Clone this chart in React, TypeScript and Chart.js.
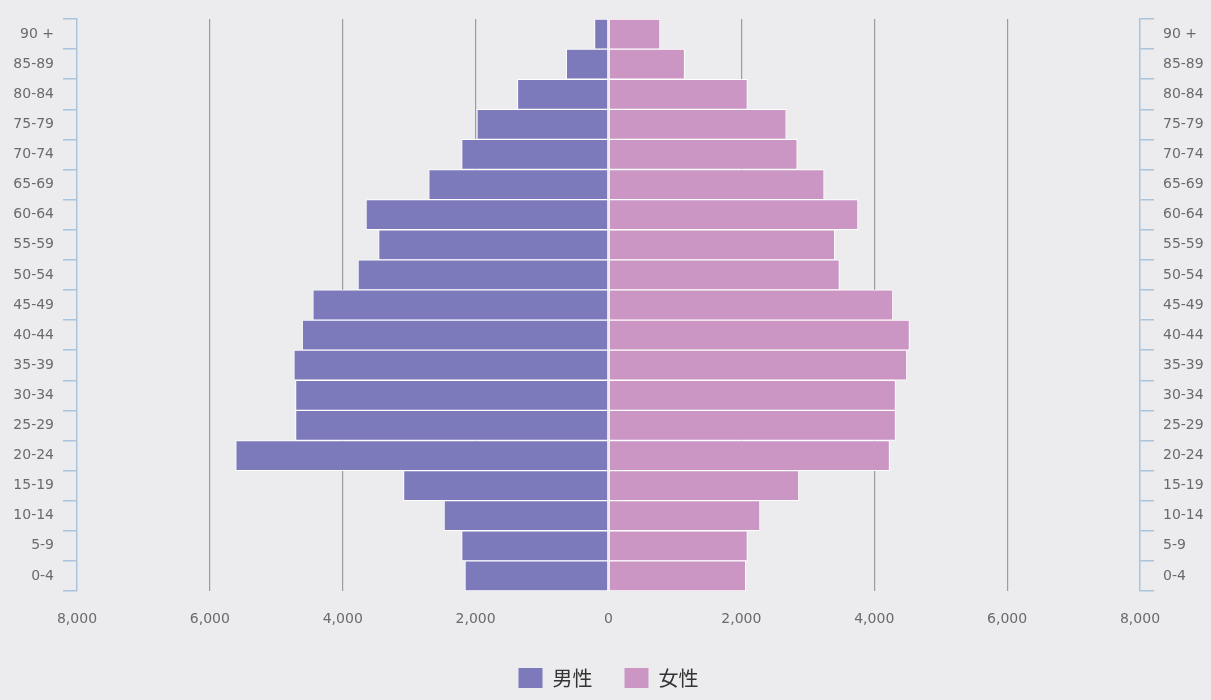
import React, { useEffect, useRef } from "react";
import { Chart, registerables } from "chart.js";

Chart.register(...registerables);

// Age groups, listed top row first
const ageGroups = [
  "90 +", "85-89", "80-84", "75-79", "70-74", "65-69", "60-64", "55-59", "50-54",
  "45-49", "40-44", "35-39", "30-34", "25-29", "20-24", "15-19", "10-14", "5-9", "0-4",
];

// Population by age group
const maleValues = [
  210, 635, 1370, 1980, 2210, 2705, 3650, 3460, 3770,
  4450, 4610, 4735, 4710, 4710, 5610, 3085, 2475, 2210, 2160,
];
const femaleValues = [
  775, 1145, 2090, 2675, 2840, 3245, 3755, 3405, 3475,
  4280, 4530, 4490, 4320, 4320, 4230, 2865, 2280, 2090, 2065,
];

const seriesNames = ["男性", "女性"];

const xMin = -8000;
const xMax = 8000;
const xStep = 2000;

const BG = "#ececee";
const AXIS_BLUE = "#a9c4dc";
const GRID_GRAY = "#9c9ca0";
const TICK_TEXT = "#6a6a6c";
const MALE_COLOR = "#7c7abb";
const FEMALE_COLOR = "#cb96c4";

export default function App() {
  const canvasRef = useRef<HTMLCanvasElement | null>(null);

  useEffect(() => {
    document.body.style.margin = "0";
    document.body.style.background = BG;
    const canvas = canvasRef.current;
    if (!canvas) return;

    const tickFont = { family: "'DejaVu Sans', sans-serif", size: 14 };

    const chart = new Chart(canvas, {
      type: "bar",
      data: {
        labels: ageGroups,
        datasets: [
          {
            label: seriesNames[0],
            data: maleValues.map((v) => -v),
            backgroundColor: MALE_COLOR,
            borderColor: "#ffffff",
            borderWidth: 1,
            borderSkipped: false,
            barPercentage: 1,
            categoryPercentage: 1,
          },
          {
            label: seriesNames[1],
            data: femaleValues,
            backgroundColor: FEMALE_COLOR,
            borderColor: "#ffffff",
            borderWidth: 1,
            borderSkipped: false,
            barPercentage: 1,
            categoryPercentage: 1,
          },
        ],
      },
      options: {
        indexAxis: "y",
        responsive: false,
        animation: false,
        layout: { padding: { top: 19, bottom: 2, left: 0, right: 0 } },
        scales: {
          x: {
            type: "linear",
            stacked: true,
            min: xMin,
            max: xMax,
            ticks: {
              stepSize: xStep,
              padding: 20,
              color: TICK_TEXT,
              font: tickFont,
              callback: (v: any) => Math.abs(Number(v)).toLocaleString("en-US"),
            },
            grid: {
              drawTicks: false,
              lineWidth: 1.2,
              color: (ctx: any) => {
                const v = ctx.tick ? ctx.tick.value : 0;
                return v === 0 || Math.abs(v) === xMax ? "rgba(0,0,0,0)" : GRID_GRAY;
              },
            },
            border: { display: false },
            afterFit: (s: any) => {
              s.height = 45;
            },
          },
          y: {
            type: "category",
            position: "left",
            stacked: true,
            offset: true,
            ticks: { padding: 9, color: TICK_TEXT, font: tickFont },
            grid: {
              offset: true,
              drawOnChartArea: false,
              drawTicks: true,
              tickLength: 14,
              color: AXIS_BLUE,
              lineWidth: 1.5,
            },
            border: { display: true, color: AXIS_BLUE, width: 1.5 },
            afterFit: (s: any) => {
              s.width = 77;
            },
          },
          y2: {
            type: "category",
            position: "right",
            labels: ageGroups,
            offset: true,
            ticks: { padding: 9, color: TICK_TEXT, font: tickFont },
            grid: {
              offset: true,
              drawOnChartArea: false,
              drawTicks: true,
              tickLength: 14,
              color: AXIS_BLUE,
              lineWidth: 1.5,
            },
            border: { display: true, color: AXIS_BLUE, width: 1.5 },
            afterFit: (s: any) => {
              s.width = 71;
            },
          },
        },
        plugins: {
          tooltip: { enabled: false },
          legend: {
            position: "bottom",
            fullSize: false,
            labels: {
              boxWidth: 24,
              boxHeight: 20,
              padding: 32,
              color: "#333333",
              font: { family: "'Noto Sans CJK JP', sans-serif", size: 20 },
              generateLabels: (c: any) =>
                Chart.defaults.plugins.legend.labels
                  .generateLabels(c)
                  .map((item: any) => ({ ...item, lineWidth: 0, strokeStyle: "rgba(0,0,0,0)" })),
            },
          },
        },
      },
    });

    return () => {
      chart.destroy();
    };
  }, []);

  return (
    <div style={{ width: 1211, height: 700, background: BG }}>
      <canvas ref={canvasRef} width={1211} height={700} style={{ display: "block" }} />
    </div>
  );
}
